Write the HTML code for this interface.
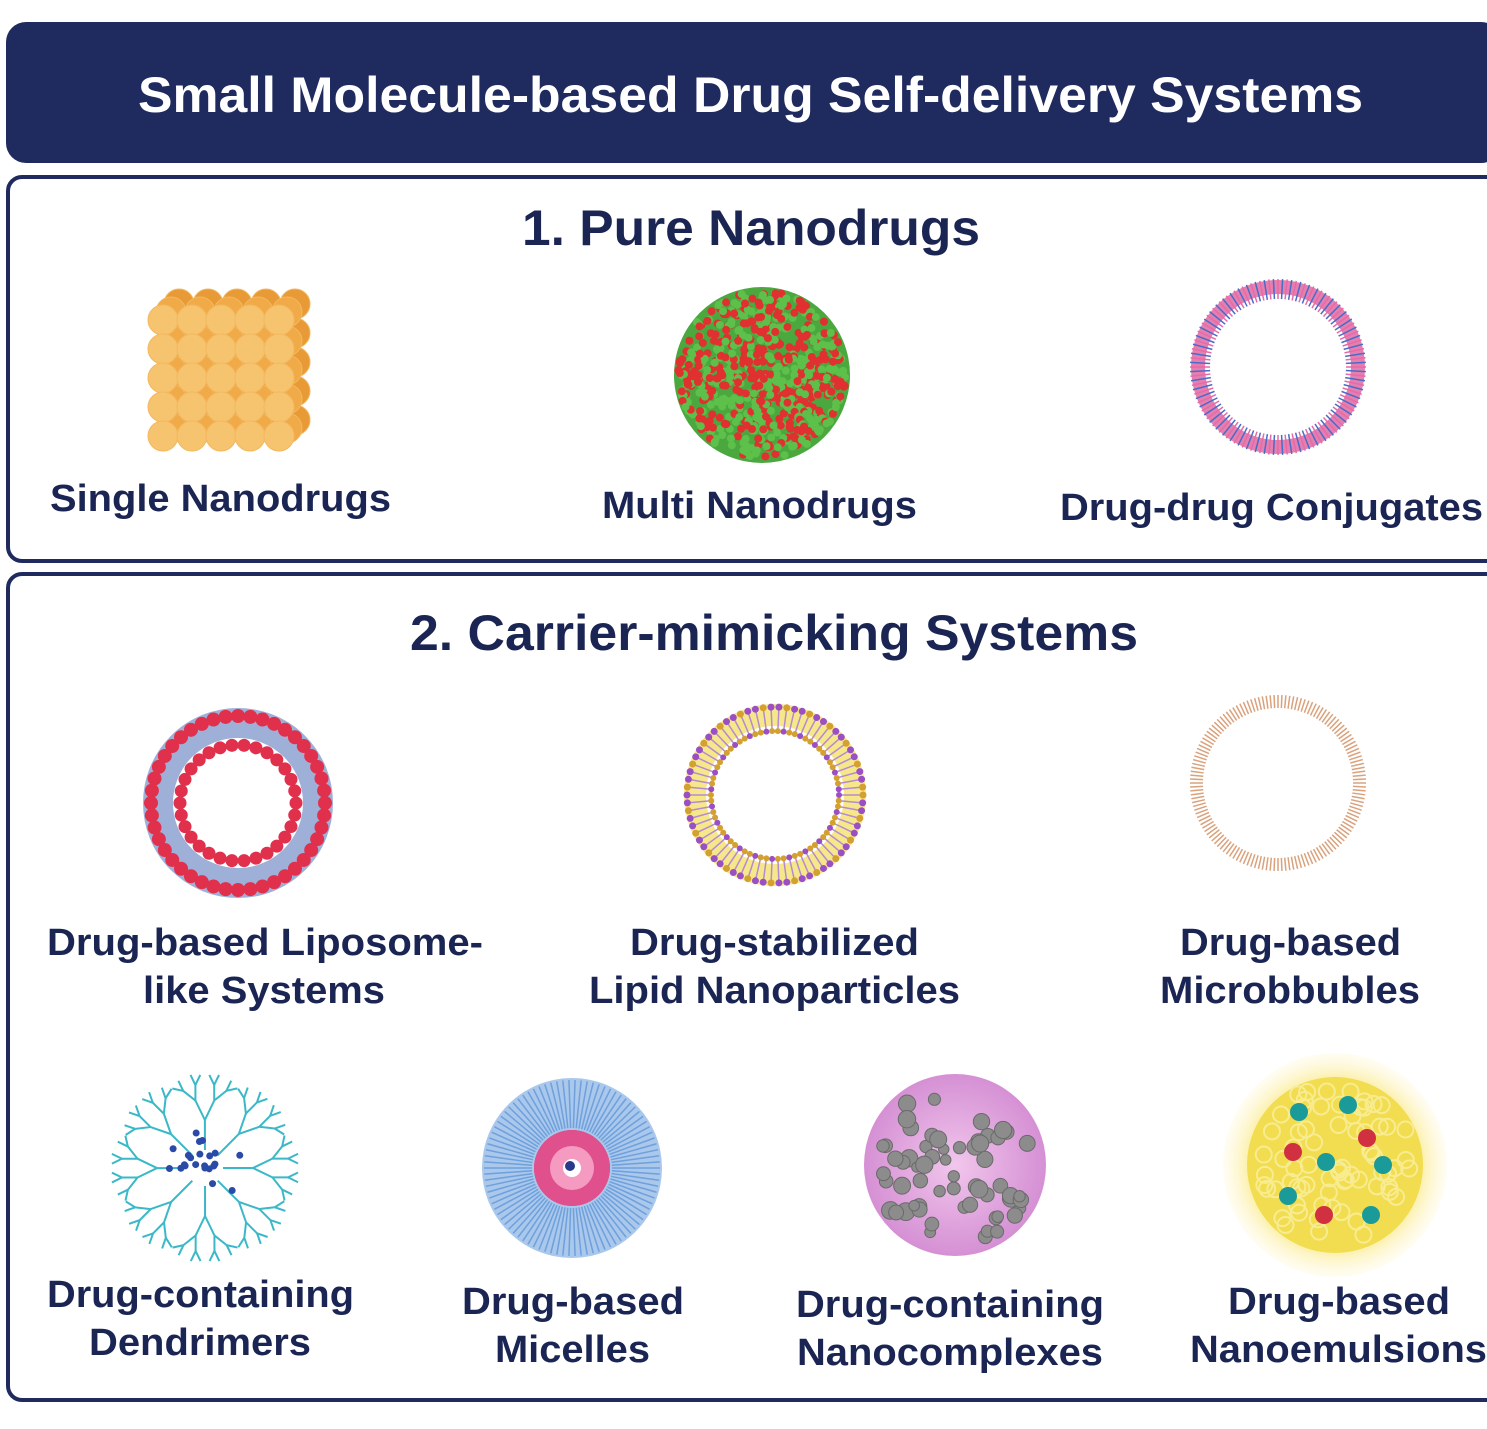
<!DOCTYPE html>
<html><head><meta charset="utf-8"><style>
html,body{margin:0;padding:0;background:#fff;width:1487px;height:1429px;overflow:hidden}
svg{display:block}
text{font-family:"Liberation Sans",Arial,sans-serif;font-weight:bold;fill:#1b2553}
</style></head><body>
<svg id="s" width="1487" height="1429" viewBox="0 0 1487 1429" xmlns="http://www.w3.org/2000/svg">
<defs>
<radialGradient id="glow"><stop offset="0.75" stop-color="#fbeea0"/><stop offset="1" stop-color="#fff8d8" stop-opacity="0.3"/></radialGradient>
<radialGradient id="pk"><stop offset="0" stop-color="#f1c6ec"/><stop offset="1" stop-color="#d590d4"/></radialGradient>
</defs>
<rect x="6" y="22" width="1495" height="141" rx="20" fill="#1f2a5e"/>
<text x="138" y="112" font-size="50" textLength="1225" lengthAdjust="spacingAndGlyphs" style="fill:#fff">Small Molecule-based Drug Self-delivery Systems</text>
<rect x="8" y="177" width="1495" height="384" rx="14" fill="none" stroke="#1f2a5e" stroke-width="4"/>
<rect x="8" y="574" width="1495" height="826" rx="14" fill="none" stroke="#1f2a5e" stroke-width="4"/>
<text x="522" y="245" font-size="50" textLength="458" lengthAdjust="spacingAndGlyphs">1. Pure Nanodrugs</text>
<text x="410" y="650" font-size="50" textLength="728" lengthAdjust="spacingAndGlyphs">2. Carrier-mimicking Systems</text>
<g font-size="38">
<text x="50" y="511" textLength="341" lengthAdjust="spacingAndGlyphs">Single Nanodrugs</text>
<text x="602" y="518" textLength="315" lengthAdjust="spacingAndGlyphs">Multi Nanodrugs</text>
<text x="1060" y="520" textLength="423" lengthAdjust="spacingAndGlyphs">Drug-drug Conjugates</text>
<text x="47" y="955" textLength="436" lengthAdjust="spacingAndGlyphs">Drug-based Liposome-</text>
<text x="143" y="1003" textLength="242" lengthAdjust="spacingAndGlyphs">like Systems</text>
<text x="630" y="955" textLength="289" lengthAdjust="spacingAndGlyphs">Drug-stabilized</text>
<text x="589" y="1003" textLength="371" lengthAdjust="spacingAndGlyphs">Lipid Nanoparticles</text>
<text x="1180" y="955" textLength="221" lengthAdjust="spacingAndGlyphs">Drug-based</text>
<text x="1160" y="1003" textLength="260" lengthAdjust="spacingAndGlyphs">Microbbubles</text>
<text x="47" y="1307" textLength="307" lengthAdjust="spacingAndGlyphs">Drug-containing</text>
<text x="89" y="1355" textLength="222" lengthAdjust="spacingAndGlyphs">Dendrimers</text>
<text x="462" y="1314" textLength="222" lengthAdjust="spacingAndGlyphs">Drug-based</text>
<text x="495" y="1362" textLength="155" lengthAdjust="spacingAndGlyphs">Micelles</text>
<text x="796" y="1317" textLength="308" lengthAdjust="spacingAndGlyphs">Drug-containing</text>
<text x="797" y="1365" textLength="306" lengthAdjust="spacingAndGlyphs">Nanocomplexes</text>
<text x="1228" y="1314" textLength="222" lengthAdjust="spacingAndGlyphs">Drug-based</text>
<text x="1190" y="1362" textLength="297" lengthAdjust="spacingAndGlyphs">Nanoemulsions</text>
</g>
<circle cx="762" cy="375" r="88" fill="#4aa83e"/>
<circle cx="1278" cy="367" r="80" fill="none" stroke="#e57fb0" stroke-width="14"/>
<circle cx="238" cy="803" r="80" fill="none" stroke="#9fb0d8" stroke-width="30"/>
<circle cx="775" cy="795" r="80" fill="none" stroke="#f6e88a" stroke-width="22"/>
<circle cx="572" cy="1168" r="90" fill="#a9c8ec"/>
<circle cx="572" cy="1168" r="38" fill="#e0508c"/>
<circle cx="955" cy="1165" r="91" fill="url(#pk)"/>
<circle cx="1335" cy="1165" r="112" fill="url(#glow)"/>
<circle cx="1335" cy="1165" r="88" fill="#f2dc50"/>
<g id="dyn"></g>
</svg>
<script>
var g=document.getElementById('dyn'),NS='http://www.w3.org/2000/svg';
function el(t,a){var e=document.createElementNS(NS,t);for(var k in a)e.setAttribute(k,a[k]);g.appendChild(e);return e}
function C(x,y,r,f,o){var a={cx:x,cy:y,r:r,fill:f};if(o)for(var k in o)a[k]=o[k];return el('circle',a)}
function L(x1,y1,x2,y2,s,w){return el('line',{x1:x1,y1:y1,x2:x2,y2:y2,stroke:s,'stroke-width':w})}
var seed=7;var R=function(){seed=(seed*9301+49297)%233280;return seed/233280};
for(var z=2;z>=0;z--)for(var i=0;i<5;i++)for(var j=0;j<5;j++){var col=z==0?'#f6c36e':(z==1?'#f0aa48':'#e89a36');C(163+j*29+z*8,320+i*29-z*8,15,col,{stroke:'#f3b860','stroke-width':1})}
for(var k=0;k<700;k++){var a=R()*6.283,d=Math.sqrt(R())*84;C(762+Math.cos(a)*d,375+Math.sin(a)*d,4,R()<0.5?'#e03030':'#5cc04a')}
for(var k=0;k<120;k++){var a=k/120*6.283,c=Math.cos(a),s=Math.sin(a);L(1278+c*68,367+s*68,1278+c*88,367+s*88,k%2?'#4a6cc8':'#e66aa8',1.5)}
for(var k=0;k<44;k++){var a=k/44*6.283;C(238+Math.cos(a)*87,803+Math.sin(a)*87,7,'#e0304c')}
for(var k=0;k<30;k++){var a=k/30*6.283;C(238+Math.cos(a)*58,803+Math.sin(a)*58,6.5,'#e0304c')}
for(var k=0;k<70;k++){var a=k/70*6.283,c=Math.cos(a),s=Math.sin(a);L(775+c*66,795+s*66,775+c*86,795+s*86,'#b58ad0',1.5);C(775+c*88,795+s*88,3.5,k%3?'#9b4fc4':'#d4a030');C(775+c*64,795+s*64,3,k%3?'#d4a030':'#9b4fc4')}
for(var k=0;k<140;k++){var a=k/140*6.283,c=Math.cos(a),s=Math.sin(a);L(1278+c*75,783+s*75,1278+c*88,783+s*88,'#d9a27c',1.5)}
function br(x,y,a,len,d){var x2=x+Math.cos(a)*len,y2=y+Math.sin(a)*len;L(x,y,x2,y2,'#3ab8c8',2);if(d>0){br(x2,y2,a-0.45,len*0.72,d-1);br(x2,y2,a+0.45,len*0.72,d-1)}}
for(var k=0;k<8;k++)br(205+Math.cos(k*0.785)*18,1168+Math.sin(k*0.785)*18,k*0.785,30,3);
for(var k=0;k<22;k++){var a=R()*6.283,d=R()*38;C(205+Math.cos(a)*d,1168+Math.sin(a)*d,3.5,'#2a4aa8')}
for(var k=0;k<90;k++){var a=k/90*6.283,c=Math.cos(a),s=Math.sin(a);L(572+c*40,1168+s*40,572+c*88,1168+s*88,'#6fa0dc',1.5)}
C(572,1168,38,'#e0508c');C(572,1168,22,'#f59ac0');C(572,1168,9,'#fff');C(570,1166,5,'#2a3a8a');
for(var k=0;k<60;k++){var a=R()*6.283,d=Math.sqrt(R())*80;C(955+Math.cos(a)*d,1165+Math.sin(a)*d,5+R()*4,'#8c8c8c',{stroke:'#6a6a6a','stroke-width':1})}
for(var k=0;k<70;k++){var a=R()*6.283,d=Math.sqrt(R())*80;C(1335+Math.cos(a)*d,1165+Math.sin(a)*d,8,'none',{stroke:'#f8ec90','stroke-width':2})}
var dots=[[1299,1112,'#1a9a98'],[1348,1105,'#1a9a98'],[1367,1138,'#d03040'],[1293,1152,'#d03040'],[1326,1162,'#1a9a98'],[1383,1165,'#1a9a98'],[1288,1196,'#1a9a98'],[1324,1215,'#d03040'],[1371,1215,'#1a9a98']];
dots.forEach(function(d){C(d[0],d[1],9,d[2])});
</script>
</body></html>
